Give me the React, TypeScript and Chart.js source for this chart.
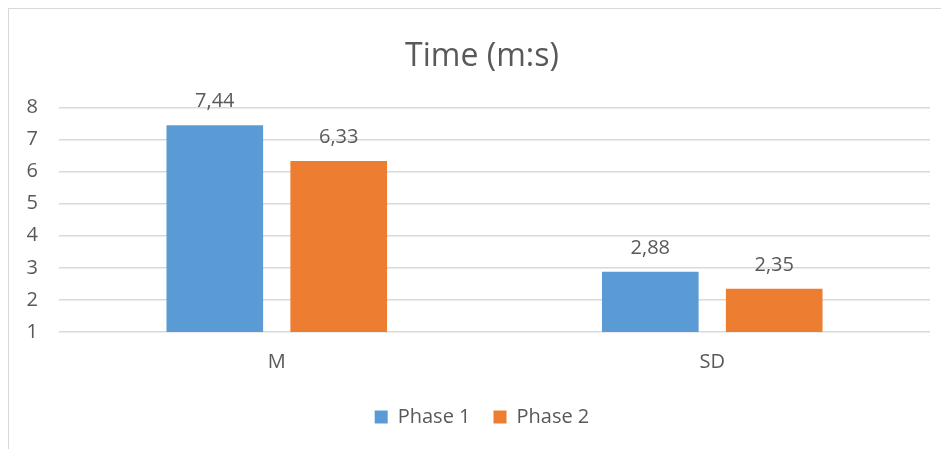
import React, { useEffect, useRef } from "react";
import { Chart, registerables } from "chart.js";

Chart.register(...registerables);

const categories = ["M", "SD"];
const phase1 = [7.44, 2.88];
const phase2 = [6.33, 2.35];
const seriesNames = ["Phase 1", "Phase 2"];
const titleText = "Time (m:s)";
const yMin = 1;
const yMax = 8;

const FONT = "'Open Sans', 'DejaVu Sans', sans-serif";
const TEXT = "#595959";
const GRID = "#d9d9d9";

const dataLabelPlugin = {
  id: "dataLabels",
  afterDatasetsDraw(chart: any) {
    const ctx = chart.ctx;
    ctx.save();
    ctx.font = `20px ${FONT}`;
    ctx.fillStyle = TEXT;
    ctx.textAlign = "center";
    ctx.textBaseline = "alphabetic";
    chart.data.datasets.forEach((ds: any, i: number) => {
      const meta = chart.getDatasetMeta(i);
      meta.data.forEach((el: any, j: number) => {
        const v = ds.data[j] as number;
        ctx.fillText(v.toFixed(2).replace(".", ","), el.x, el.y - 18);
      });
    });
    ctx.restore();
  },
};

export default function App() {
  const ref = useRef<HTMLCanvasElement>(null);
  useEffect(() => {
    document.documentElement.style.overflow = "hidden";
    document.body.style.overflow = "hidden";
    const chart = new Chart(ref.current!, {
      type: "bar",
      data: {
        labels: categories,
        datasets: [
          {
            label: seriesNames[0],
            data: phase1,
            backgroundColor: "#5b9bd5",
            categoryPercentage: 0.569,
            barPercentage: 0.78,
          },
          {
            label: seriesNames[1],
            data: phase2,
            backgroundColor: "#ed7d31",
            categoryPercentage: 0.569,
            barPercentage: 0.78,
          },
        ],
      },
      options: {
        responsive: false,
        animation: false,
        devicePixelRatio: 1,
        layout: { padding: { left: 0, right: -6, top: 0, bottom: 12 } },
        plugins: {
          title: {
            display: true,
            text: titleText,
            color: TEXT,
            font: { family: FONT, size: 32, weight: "normal" },
            padding: { top: 29, bottom: 31 },
          },
          legend: {
            position: "bottom",
            labels: {
              color: TEXT,
              font: { family: FONT, size: 20 },
              boxWidth: 13,
              boxHeight: 13,
              padding: 23,
            },
          },
          tooltip: { enabled: false },
        },
        scales: {
          x: {
            grid: { display: false, drawTicks: false },
            border: { display: false },
            ticks: { color: TEXT, font: { family: FONT, size: 20 }, padding: 18 },
            afterFit: (s: any) => {
              s.height = 52;
            },
          },
          y: {
            min: yMin,
            max: yMax,
            grid: { color: GRID, lineWidth: 1.5, drawTicks: false },
            border: { display: false },
            ticks: { stepSize: 1, color: TEXT, font: { family: FONT, size: 20 }, padding: 21 },
            afterFit: (s: any) => {
              s.width = 50;
            },
          },
          yRight: {
            position: "right",
            min: yMin,
            max: yMax,
            grid: { display: false, drawTicks: false },
            border: { display: false },
            ticks: { display: false },
            afterFit: (s: any) => {
              s.width = 25;
            },
          },
        },
      },
      plugins: [dataLabelPlugin],
    });
    return () => chart.destroy();
  }, []);
  return (
    <div
      style={{
        width: 940,
        height: 440,
        borderLeft: "1px solid #d9d9d9",
        borderTop: "1px solid #d9d9d9",
        background: "#fff",
      }}
    >
      <canvas ref={ref} width={940} height={440} style={{ display: "block" }} />
    </div>
  );
}
